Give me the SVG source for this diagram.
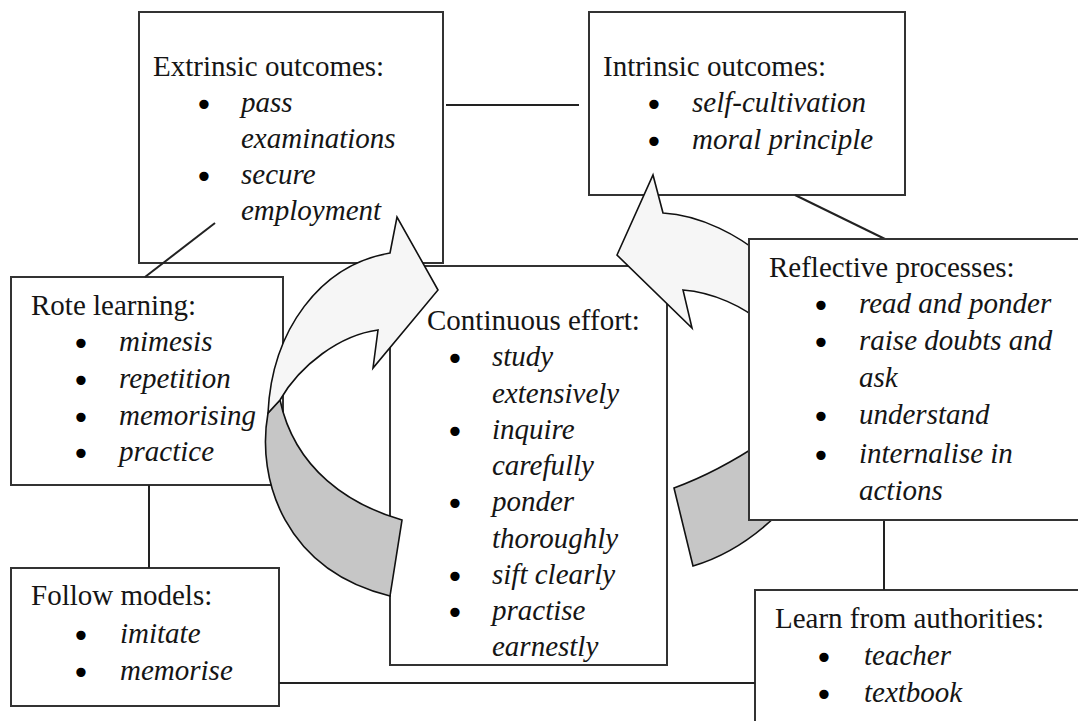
<svg xmlns="http://www.w3.org/2000/svg" width="1078" height="721" viewBox="0 0 1078 721">
<style>
.box{fill:#fff;stroke:#333;stroke-width:2}
.h{font-family:"Liberation Serif","Times New Roman",serif;font-size:29px;fill:#151515}
.i{font-family:"Liberation Serif","Times New Roman",serif;font-size:29px;font-style:italic;fill:#151515}
.b{font-family:"DejaVu Sans",sans-serif;font-size:32px;fill:#000;text-anchor:middle}
.ln{stroke:#222;stroke-width:2;fill:none}
.arw{fill:#f6f6f6;stroke:#111;stroke-width:1.6;stroke-linejoin:miter}
.gry{fill:#c6c6c6;stroke:#111;stroke-width:1.6}
</style>
<rect width="1078" height="721" fill="#fff"/>

<g id="extrinsic">
<rect class="box" x="139" y="12" width="304" height="251"/>
<text class="h" x="153" y="76">Extrinsic outcomes:</text>
<text class="b" x="204" y="116">•</text>
<text class="i" x="241" y="112">pass</text>
<text class="i" x="241" y="148">examinations</text>
<text class="b" x="204" y="188">•</text>
<text class="i" x="241" y="184">secure</text>
<text class="i" x="241" y="220">employment</text>
</g>

<g id="intrinsic">
<rect class="box" x="589" y="12" width="316" height="183"/>
<text class="h" x="603" y="76">Intrinsic outcomes:</text>
<text class="b" x="654" y="116">•</text>
<text class="i" x="692" y="112">self-cultivation</text>
<text class="b" x="654" y="153">•</text>
<text class="i" x="692" y="149">moral principle</text>
</g>

<g id="rote">
<rect class="box" x="11" y="277" width="272" height="208"/>
<text class="h" x="31" y="315">Rote learning:</text>
<text class="b" x="81" y="355">•</text>
<text class="i" x="119" y="351">mimesis</text>
<text class="b" x="81" y="392">•</text>
<text class="i" x="119" y="388">repetition</text>
<text class="b" x="81" y="429">•</text>
<text class="i" x="119" y="425">memorising</text>
<text class="b" x="81" y="465">•</text>
<text class="i" x="119" y="461">practice</text>
</g>

<g id="follow">
<rect class="box" x="11" y="568" width="268" height="138"/>
<text class="h" x="31" y="605">Follow models:</text>
<text class="b" x="81" y="647">•</text>
<text class="i" x="120" y="643">imitate</text>
<text class="b" x="81" y="684">•</text>
<text class="i" x="120" y="680">memorise</text>
</g>

<g id="continuous">
<rect class="box" x="390" y="266" width="277" height="399"/>
<text class="h" x="427" y="330">Continuous effort:</text>
<text class="b" x="455" y="370">•</text>
<text class="i" x="492" y="366">study</text>
<text class="i" x="492" y="403">extensively</text>
<text class="b" x="455" y="443">•</text>
<text class="i" x="492" y="439">inquire</text>
<text class="i" x="492" y="475">carefully</text>
<text class="b" x="455" y="515">•</text>
<text class="i" x="492" y="511">ponder</text>
<text class="i" x="492" y="548">thoroughly</text>
<text class="b" x="455" y="588">•</text>
<text class="i" x="492" y="584">sift clearly</text>
<text class="b" x="455" y="624">•</text>
<text class="i" x="492" y="620">practise</text>
<text class="i" x="492" y="656">earnestly</text>
</g>

<g id="learn">
<rect class="box" x="755" y="590" width="340" height="150"/>
<text class="h" x="775" y="628">Learn from authorities:</text>
<text class="b" x="824" y="669">•</text>
<text class="i" x="864" y="665">teacher</text>
<text class="b" x="824" y="706">•</text>
<text class="i" x="864" y="702">textbook</text>
</g>

<g id="connectors">
<line class="ln" x1="446" y1="105" x2="579" y2="105"/>
<line class="ln" x1="215" y1="223" x2="145" y2="277"/>
<line class="ln" x1="795" y1="195" x2="885" y2="239"/>
<line class="ln" x1="149" y1="485" x2="149" y2="568"/>
<line class="ln" x1="884" y1="520" x2="884" y2="590"/>
<line class="ln" x1="279" y1="683" x2="755" y2="683"/>
</g>

<g id="cycle-left">
<path class="gry" d="M268,413 C256,480 285,570 390,596 L402,520 C350,505 295,470 280,400 Z"/>
<path class="arw" d="M268,413 C272,330 320,265 390,253 L397,217 L438,290 L373,368 L378,330 C340,335 300,365 280,400 Z"/>
</g>

<g id="cycle-right">
<path class="gry" d="M674,488 L693,566 C720,558 750,542 780,512 L780,430 C745,455 710,475 674,488 Z"/>
<path class="arw" d="M663,213 L653,175 L617,255 L692,328 L683,290 C710,292 745,305 770,330 L770,262 C740,235 700,215 663,213 Z"/>
</g>

<g id="reflective">
<rect class="box" x="749" y="239" width="345" height="281"/>
<text class="h" x="769" y="277">Reflective processes:</text>
<text class="b" x="821" y="317">•</text>
<text class="i" x="859" y="313">read and ponder</text>
<text class="b" x="821" y="354">•</text>
<text class="i" x="859" y="350">raise doubts and</text>
<text class="i" x="859" y="387">ask</text>
<text class="b" x="821" y="428">•</text>
<text class="i" x="859" y="424">understand</text>
<text class="b" x="821" y="467">•</text>
<text class="i" x="859" y="463">internalise in</text>
<text class="i" x="859" y="500">actions</text>
</g>
</svg>
